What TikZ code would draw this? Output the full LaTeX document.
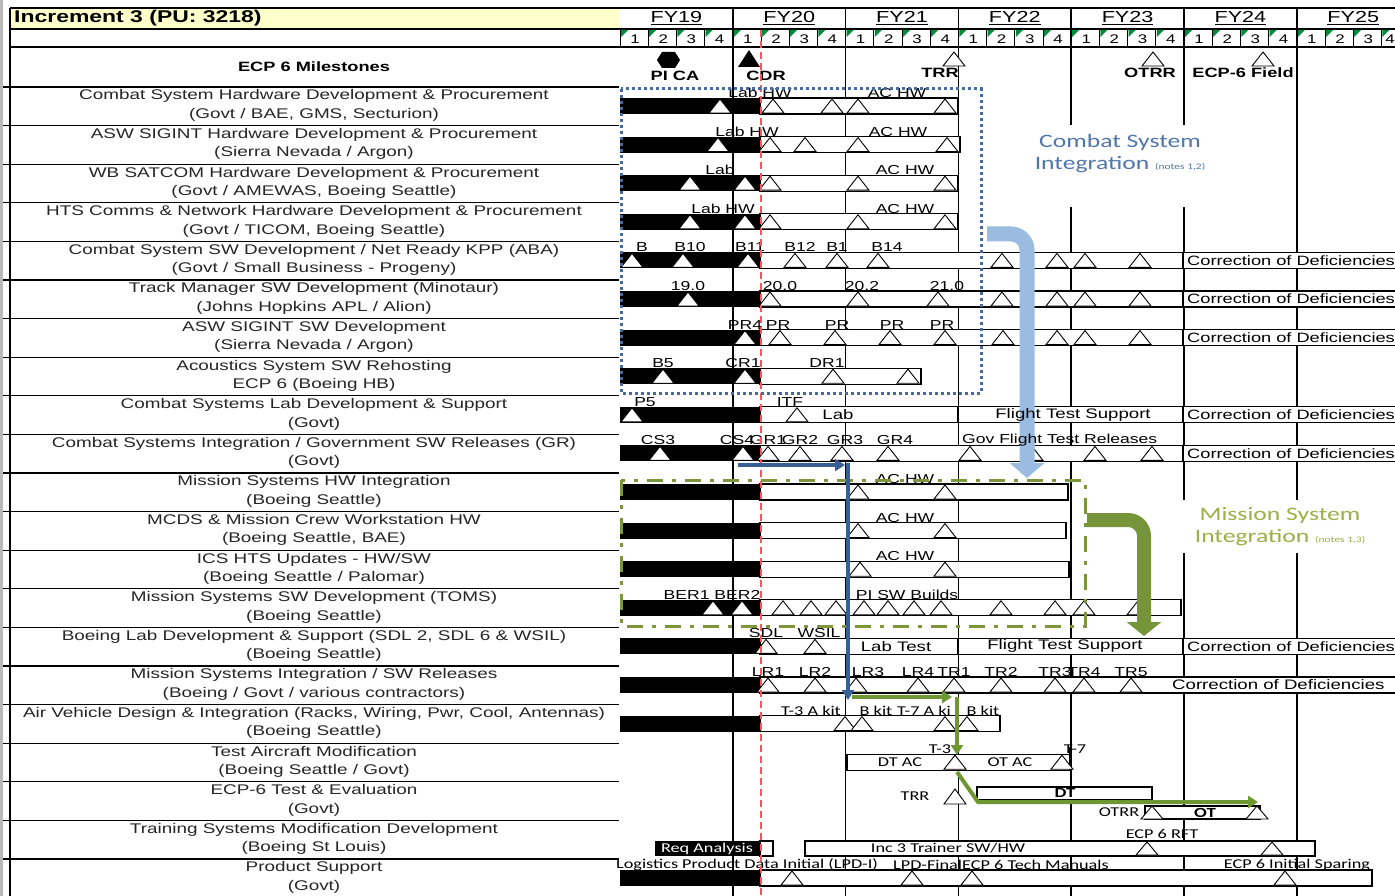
\documentclass[tikz,border=0pt]{standalone}
\usepackage{fontspec}
\setmainfont{Liberation Sans}[FakeStretch=1.35]
\newfontfamily\calfont{Carlito}[FakeStretch=1.35]
\usetikzlibrary{arrows.meta}
\definecolor{redl}{RGB}{240,90,90}
\definecolor{bdot}{RGB}{70,105,160}
\definecolor{lblue}{RGB}{155,188,225}
\definecolor{dblue}{RGB}{55,95,150}
\definecolor{gdash}{RGB}{125,150,60}
\definecolor{garrow}{RGB}{118,148,58}
\definecolor{dgreen}{RGB}{110,150,50}
\definecolor{csilbl}{RGB}{80,118,170}
\definecolor{msilbl}{RGB}{155,175,70}
\definecolor{ttl}{RGB}{255,255,204}
\definecolor{qgreen}{RGB}{0,140,60}
\newcommand{\setrow}[1]{%
  \pgfmathsetmacro{\RT}{87+38.6*#1}%
  \pgfmathsetmacro{\BA}{\RT+11}%
  \pgfmathsetmacro{\BB}{\RT+27}%
  \pgfmathsetmacro{\BM}{\RT+19}%
  \pgfmathsetmacro{\LB}{\RT+6}}
\newcounter{nd}
\newcommand{\lab}[2]{\stepcounter{nd}\node[tl] (t\thend) at (#1,\LB) {#2};}
\newcommand{\labc}[2]{\stepcounter{nd}\node[tlc] (t\thend) at (#1,\LB) {#2};}
\newcommand{\btx}[3][]{\stepcounter{nd}\node[bt,#1] (t\thend) at (#2,\BM) {#3};}
\newcommand{\tri}[1]{\draw[tri] ({#1-11},\BB-1) -- (#1,\BA+1) -- ({#1+11},\BB-1) -- cycle;}
\newcommand{\blk}{\fill[black] (620,\BA) rectangle (760,\BB);}
\newcommand{\rowlabel}[3]{\node[rl] (r#1) at (314,{87+38.6*#1+18.5}) {#2\\#3};}
\tikzset{
  grid/.style={line width=1.6pt, black},
  wbar/.style={draw=black, line width=1.1pt, fill=white},
  tri/.style={draw=black, line width=0.9pt, fill=white, line join=miter},
  tl/.style={font=\fontsize{13}{15}\selectfont, inner sep=0pt},
  tlc/.style={font=\calfont\fontsize{13.5}{15}\selectfont, inner sep=0pt},
  bt/.style={font=\fontsize{13.8}{15}\selectfont, inner sep=0pt},
  cod/.style={font=\fontsize{13.5}{15}\selectfont, inner sep=0pt, anchor=west},
  rl/.style={font=\fontsize{14}{18.5}\selectfont, align=center, inner sep=0pt, text=black!85},
  qn/.style={font=\fontsize{12.5}{14}\selectfont, inner sep=0pt},
  fy/.style={font=\fontsize{16}{18}\selectfont, inner sep=0pt},
  msl/.style={font=\bfseries\fontsize{13.5}{15}\selectfont, inner sep=0pt},
  big/.style={line width=4pt, -{Triangle[length=10pt,width=12pt]}},
}
\begin{document}
\begin{tikzpicture}[x=1pt,y=-1pt]
\useasboundingbox (0,0) rectangle (1395,896);
\clip (0,0) rectangle (1395,896);
\fill[white] (0,0) rectangle (1395,896);
% ---------- left column ----------
\draw[gray!55, line width=3pt] (1.5,0) -- (1.5,896);
\fill[ttl] (10,8) rectangle (619,29);
\node[anchor=west, font=\bfseries\fontsize{17}{19}\selectfont, inner sep=0pt] (title) at (14,18.5) {Increment 3 (PU: 3218)};
\draw[line width=1.4pt] (10,8) -- (1395,8);
\draw[line width=1.2pt] (10,29) -- (1395,29);
\draw[line width=1.2pt] (10,47) -- (1395,47);
\draw[line width=1.2pt] (10,8) -- (10,896);
\foreach \k in {0,...,20} { \draw[line width=1.1pt] (3,{87+38.6*\k}) -- (619,{87+38.6*\k}); }
\node[msl] (ms) at (314,67) {ECP 6 Milestones};
\rowlabel{0}{Combat System Hardware Development \& Procurement}{(Govt / BAE, GMS, Secturion)}
\rowlabel{1}{ASW SIGINT Hardware Development \& Procurement}{(Sierra Nevada / Argon)}
\rowlabel{2}{WB SATCOM Hardware Development \& Procurement}{(Govt / AMEWAS, Boeing Seattle)}
\rowlabel{3}{HTS Comms \& Network Hardware Development \& Procurement}{(Govt / TICOM, Boeing Seattle)}
\rowlabel{4}{Combat System SW Development / Net Ready KPP (ABA)}{(Govt / Small Business - Progeny)}
\rowlabel{5}{Track Manager SW Development (Minotaur)}{(Johns Hopkins APL / Alion)}
\rowlabel{6}{ASW SIGINT SW Development}{(Sierra Nevada / Argon)}
\rowlabel{7}{Acoustics System SW Rehosting}{ECP 6 (Boeing HB)}
\rowlabel{8}{Combat Systems Lab Development \& Support}{(Govt)}
\rowlabel{9}{Combat Systems Integration / Government SW Releases (GR)}{(Govt)}
\rowlabel{10}{Mission Systems HW Integration}{(Boeing Seattle)}
\rowlabel{11}{MCDS \& Mission Crew Workstation HW}{(Boeing Seattle, BAE)}
\rowlabel{12}{ICS HTS Updates - HW/SW}{(Boeing Seattle / Palomar)}
\rowlabel{13}{Mission Systems SW Development (TOMS)}{(Boeing Seattle)}
\rowlabel{14}{Boeing Lab Development \& Support (SDL 2, SDL 6 \& WSIL)}{(Boeing Seattle)}
\rowlabel{15}{Mission Systems Integration / SW Releases}{(Boeing / Govt / various contractors)}
\rowlabel{16}{Air Vehicle Design \& Integration (Racks, Wiring, Pwr, Cool, Antennas)}{(Boeing Seattle)}
\rowlabel{17}{Test Aircraft Modification}{(Boeing Seattle / Govt)}
\rowlabel{18}{ECP-6 Test \& Evaluation}{(Govt)}
\rowlabel{19}{Training Systems Modification Development}{(Boeing St Louis)}
\rowlabel{20}{Product Support}{(Govt)}
% ---------- header ----------
\foreach \i/\t in {0/FY19,1/FY20,2/FY21,3/FY22,4/FY23,5/FY24,6/FY25} {
  \node[fy] (fy\i) at ({620+112.8*\i+56.4},18) {\underline{\t}};
}
\foreach \k in {0,...,27} {
  \pgfmathsetmacro{\qx}{620+28.2*\k}
  \pgfmathtruncatemacro{\qv}{mod(\k,4)+1}
  \draw[line width=1pt] (\qx,29) -- (\qx,47);
  \fill[qgreen] (\qx+1,30) -- (\qx+8,30) -- (\qx+1,37) -- cycle;
}
\foreach \k in {0,...,26} {
  \pgfmathsetmacro{\qx}{620+28.2*\k}
  \pgfmathtruncatemacro{\qv}{mod(\k,4)+1}
  \node[qn] (q\k) at (\qx+15,39) {\qv};
}
\node[qn] (q27) at (1390,39) {4};
% grid
\foreach \i in {1,...,6} { \draw[grid] ({620+112.8*\i},8) -- ({620+112.8*\i},896); }
% milestones
\fill[black] (657,60) -- (662,52) -- (675,52) -- (680,60) -- (675,68) -- (662,68) -- cycle;
\node[msl] (pica) at (675,76) {PI CA};
\fill[black] (749,50) -- (738,67) -- (760,67) -- cycle;
\node[msl] (cdr) at (766,76) {CDR};
\draw[tri] (943,66) -- (954,52) -- (965,66) -- cycle;
\node[msl] (trr) at (940,73) {TRR};
\draw[tri] (1142,66) -- (1153,52) -- (1164,66) -- cycle;
\node[msl] (otrr) at (1150,73) {OTRR};
\draw[tri] (1252,66) -- (1263,52) -- (1274,66) -- cycle;
\node[msl] (field) at (1243,73) {ECP-6 Field};
% ---------- rows ----------
\setrow{0}\blk
\draw[wbar] (760,\BA) rectangle (958,\BB);
\foreach \x in {720,773,832,858,945}{\tri{\x}}
\lab{760}{Lab HW}\lab{897}{AC HW}
\setrow{1}\blk
\draw[wbar] (760,\BA) rectangle (960,\BB);
\foreach \x in {718,770,805,858,947}{\tri{\x}}
\lab{747}{Lab HW}\lab{898}{AC HW}
\setrow{2}\blk
\draw[wbar] (760,\BA) rectangle (958,\BB);
\foreach \x in {690,745,770,858,945}{\tri{\x}}
\lab{720}{Lab}\lab{905}{AC HW}
\setrow{3}\blk
\draw[wbar] (760,\BA) rectangle (958,\BB);
\foreach \x in {690,745,770,858,945}{\tri{\x}}
\lab{723}{Lab HW}\lab{905}{AC HW}
\setrow{4}\blk
\draw[wbar] (760,\BA) rectangle (1183,\BB);
\draw[wbar] (1183,\BA) rectangle (1400,\BB);
\btx[cod]{1187}{Correction of Deficiencies}
\foreach \x in {632,683,748,795,837,878,1002,1057,1085,1140}{\tri{\x}}
\lab{642}{B}\lab{690}{B10}\lab{750}{B11}\lab{800}{B12}\lab{837}{B1}\lab{887}{B14}
\setrow{5}\blk
\draw[wbar] (760,\BA) rectangle (1183,\BB);
\draw[wbar] (1183,\BA) rectangle (1400,\BB);
\btx[cod]{1187}{Correction of Deficiencies}
\foreach \x in {688,770,858,938,1002,1057,1085,1140}{\tri{\x}}
\lab{688}{19.0}\lab{780}{20.0}\lab{862}{20.2}\lab{947}{21.0}
\setrow{6}\blk
\draw[wbar] (760,\BA) rectangle (1183,\BB);
\draw[wbar] (1183,\BA) rectangle (1400,\BB);
\btx[cod]{1187}{Correction of Deficiencies}
\foreach \x in {745,780,835,890,945,1003,1057,1085,1140}{\tri{\x}}
\lab{745}{PR4}\lab{778}{PR}\lab{837}{PR}\lab{892}{PR}\lab{942}{PR}
\setrow{7}\blk
\draw[wbar] (760,\BA) rectangle (921,\BB);
\foreach \x in {663,745,833,908}{\tri{\x}}
\lab{663}{B5}\lab{743}{CR1}\lab{827}{DR1}
\setrow{8}\blk
\draw[wbar] (760,\BA) rectangle (958,\BB);
\draw[wbar] (958,\BA) rectangle (1183,\BB);
\draw[wbar] (1183,\BA) rectangle (1400,\BB);
\btx{838}{Lab}
\btx[cod]{1187}{Correction of Deficiencies}
\foreach \x in {632,797}{\tri{\x}}
\lab{645}{P5}\lab{790}{ITF}
\setrow{9}\blk
\draw[wbar] (760,\BA) rectangle (1183,\BB);
\draw[wbar] (1183,\BA) rectangle (1400,\BB);
\btx[cod]{1187}{Correction of Deficiencies}
\foreach \x in {660,743,768,800,842,888,970,1032,1095,1152}{\tri{\x}}
\lab{658}{CS3}\lab{737}{CS4}\lab{768}{GR1}\lab{800}{GR2}\lab{845}{GR3}\lab{895}{GR4}
\setrow{10}\blk
\draw[wbar] (760,\BA) rectangle (1068,\BB);
\foreach \x in {858,945}{\tri{\x}}
\lab{905}{AC HW}
\setrow{11}\blk
\draw[wbar] (760,\BA) rectangle (1066,\BB);
\foreach \x in {858,945}{\tri{\x}}
\lab{905}{AC HW}
\setrow{12}\blk
\draw[wbar] (760,\BA) rectangle (1069,\BB);
\draw[line width=2.5pt] (1069,\BA) -- (1069,\BB);
\foreach \x in {860,945}{\tri{\x}}
\lab{905}{AC HW}
\setrow{13}\blk
\draw[wbar] (760,\BA) rectangle (1181,\BB);
\draw[line width=2pt] (1181,\BA) -- (1181,\BB);
\foreach \x in {713,742,783,811,836,864,888,914,941,1001,1055,1084,1138}{\tri{\x}}
\lab{712}{BER1 BER2}\lab{907}{PI SW Builds}
\setrow{14}\blk
\draw[wbar] (760,\BA) rectangle (958,\BB);
\draw[wbar] (958,\BA) rectangle (1183,\BB);
\draw[wbar] (1183,\BA) rectangle (1400,\BB);
\btx{896}{Lab Test}\btx{1065}{Flight Test Support}
\btx[cod]{1187}{Correction of Deficiencies}
\foreach \x in {766,815}{\tri{\x}}
\lab{766}{SDL}\lab{819}{WSIL}
\setrow{15}\blk
\draw[wbar] (760,\BA) rectangle (1400,\BB);
\btx[anchor=west]{1172}{Correction of Deficiencies}
\foreach \x in {768,815,856,918,954,1001,1055,1084,1131}{\tri{\x}}
\lab{768}{LR1}\lab{815}{LR2}\lab{868}{LR3}\lab{918}{LR4}\lab{954}{TR1}\lab{1001}{TR2}\lab{1055}{TR3}\lab{1084}{TR4}\lab{1131}{TR5}
\setrow{16}\blk
\draw[wbar] (760,\BA) rectangle (1000,\BB);
\foreach \x in {845,862,945,967}{\tri{\x}}
\labc{811}{T-3 A kit}\labc{876}{B kit}\labc{924}{T-7 A ki}\labc{983}{B kit}
\setrow{17}
\draw[wbar] (847,\BA) rectangle (1070,\BB);
\draw[line width=2pt] (1070,\RT+4) -- (1070,\BB);
\foreach \x in {955,1062}{\tri{\x}}
\labc{940}{T-3}\labc{1075}{T-7}
\stepcounter{nd}\node[tlc] (t\thend) at (900,\BM) {DT AC};
\stepcounter{nd}\node[tlc] (t\thend) at (1010,\BM) {OT AC};
% row 18
\draw[wbar] (977,787) rectangle (1152,800);
\draw[wbar] (1145,806) rectangle (1260,819);
\draw[tri] (944,804) -- (955,789) -- (966,804) -- cycle;
\draw[tri] (1141,819) -- (1152,806) -- (1163,819) -- cycle;
\draw[tri] (1246,819) -- (1257,806) -- (1268,819) -- cycle;
\node[tlc] (trr2) at (915,796) {TRR};
\node[tlc, font=\calfont\bfseries\fontsize{14}{15}\selectfont] (dt) at (1065,793) {DT};
\node[tlc] (otrr2) at (1119,812) {OTRR};
\node[tlc, font=\calfont\bfseries\fontsize{14}{15}\selectfont] (ot) at (1205,813) {OT};
% row 19
\fill[black] (655,841) rectangle (760,856);
\node[tlc, text=white] (req) at (707,848.5) {Req Analysis};
\draw[wbar] (760,841) rectangle (773,856);
\draw[wbar] (805,841) rectangle (1315,856);
\node[tlc] (inc3) at (948,848.5) {Inc 3 Trainer SW/HW};
\draw[tri] (1136,855) -- (1147,842) -- (1158,855) -- cycle;
\draw[tri] (1261,855) -- (1272,842) -- (1283,855) -- cycle;
\node[tlc] (rft) at (1162,834) {ECP 6 RFT};
% row 20
\setrow{20}\blk
\draw[wbar] (760,\BA) rectangle (1372,\BB);
\foreach \x in {792,912,972,1285}{\tri{\x}}
\node[tlc,anchor=west] (lpdi) at (616,864.5) {Logistics Product Data Initial (LPD-I)};
\node[tlc,anchor=west] (lpdf) at (893,864.5) {LPD-Final};
\node[tlc,anchor=west] (tm) at (962,864.5) {ECP 6 Tech Manuals};
\node[tlc] (spar) at (1297,864.5) {ECP 6 Initial Sparing};
% ---------- overlays ----------
\draw[redl, line width=2pt, dash pattern=on 7pt off 4pt] (761,30) -- (761,896);
\draw[bdot, line width=3pt, dash pattern=on 3pt off 3pt] (621,89) rectangle (981,393);
\draw[gdash, line width=3pt, dash pattern=on 16pt off 9pt on 4pt off 9pt] (621,480) rectangle (1085,626);
% Combat System Integration
\fill[white] (1015,125) rectangle (1235,207);
\node[font=\calfont\fontsize{19}{22}\selectfont, text=csilbl, align=center, inner sep=0pt] (csi) at (1120,154) {Combat System\\Integration {\fontsize{8.5}{10}\selectfont (notes 1,2)}};
\coordinate (cs0) at (987,234);
\coordinate (cs1) at (1027,234);
\coordinate (cs2) at (1027,478);
\draw[lblue, line width=15pt, rounded corners=16pt, -{Triangle[length=15pt,width=34pt]}] (cs0) -- (cs1) -- (cs2);
% texts that lie over the light blue arrow
\node[bt] (fts1) at (1073,{87+38.6*8+19}) {Flight Test Support};
\node[tl,anchor=west] (gov) at (962,{87+38.6*9+6}) {Gov Flight Test Releases};
% Mission System Integration
\fill[white] (1172,500) rectangle (1395,553);
\node[font=\calfont\fontsize{19}{22}\selectfont, text=msilbl, align=center, inner sep=0pt] (msi) at (1280,527) {Mission System\\Integration {\fontsize{8.5}{10}\selectfont (notes 1,3)}};
\coordinate (ms0) at (1087,520);
\coordinate (ms1) at (1144,520);
\coordinate (ms2) at (1144,636);
\draw[garrow, line width=14pt, rounded corners=16pt, -{Triangle[length=14pt,width=34pt]}] (ms0) -- (ms1) -- (ms2);
% dark blue flow
\coordinate (db0) at (738,465);
\coordinate (db1) at (845,465);
\coordinate (db2) at (848,463);
\coordinate (db3) at (848,700);
\draw[big, dblue] (db0) -- (db1);
\draw[big, dblue] (db2) -- (db3);
% dark green flow
\coordinate (dg0) at (852,697);
\coordinate (dg1) at (952,697);
\coordinate (dg2) at (957,697);
\coordinate (dg3) at (957,755);
\coordinate (dg4) at (957,772);
\coordinate (dg5) at (978,802);
\coordinate (dg6) at (1258,802);
\draw[big, dgreen] (dg0) -- (dg1);
\draw[big, dgreen] (dg2) -- (dg3);
\draw[big, dgreen] (dg4) -- (dg5) -- (dg6);
\end{tikzpicture}
\end{document}
